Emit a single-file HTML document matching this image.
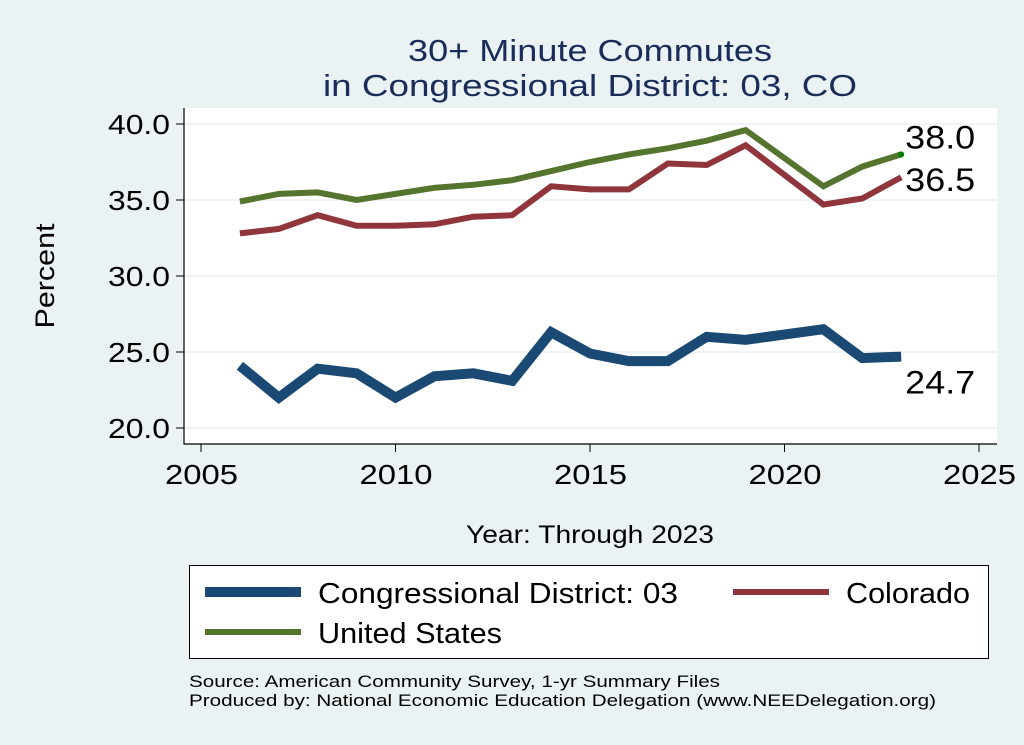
<!DOCTYPE html>
<html><head><meta charset="utf-8"><style>
html,body{margin:0;padding:0;background:#eaf2f3;}
svg{display:block;font-family:"Liberation Sans",Arial,sans-serif;}
</style></head><body>
<svg id="chart" width="1024" height="745" viewBox="0 0 1024 745">
<rect x="0" y="0" width="1024" height="745" fill="#eaf2f3"/>
<text x="408" y="61" font-size="31" textLength="364" lengthAdjust="spacingAndGlyphs" fill="#1a2d5a">30+ Minute Commutes</text>
<text x="323" y="96" font-size="31" textLength="534" lengthAdjust="spacingAndGlyphs" fill="#1a2d5a">in Congressional District:  03, CO</text>
<rect x="184" y="108" width="813" height="336" fill="#ffffff"/>
<g id="grid"></g>
<g id="axes"></g>
<g id="series"></g>
<g id="labels"></g>
<text x="54" y="276" text-anchor="middle" font-size="27" textLength="105" lengthAdjust="spacingAndGlyphs" fill="#000" transform="rotate(-90 54 276)">Percent</text>
<text x="466" y="543" font-size="25" textLength="248" lengthAdjust="spacingAndGlyphs" fill="#000">Year: Through 2023</text>
<g>
<rect x="189.5" y="565.5" width="799" height="93" fill="#fff" stroke="#000" stroke-width="1"/>
<line x1="205" y1="592" x2="301" y2="592" stroke="#1a4a73" stroke-width="10"/>
<text x="318" y="603" font-size="29" textLength="360" lengthAdjust="spacingAndGlyphs" fill="#000">Congressional District:  03</text>
<line x1="733" y1="592" x2="829" y2="592" stroke="#90353b" stroke-width="6"/>
<text x="846" y="603" font-size="29" textLength="124" lengthAdjust="spacingAndGlyphs" fill="#000">Colorado</text>
<line x1="205" y1="632" x2="301" y2="632" stroke="#55752f" stroke-width="6"/>
<text x="318" y="643" font-size="29" textLength="184" lengthAdjust="spacingAndGlyphs" fill="#000">United States</text>
</g>
<text x="189" y="687" font-size="17" textLength="531" lengthAdjust="spacingAndGlyphs" fill="#000">Source: American Community Survey, 1-yr Summary Files</text>
<text x="189" y="706" font-size="17" textLength="747" lengthAdjust="spacingAndGlyphs" fill="#000">Produced by: National Economic Education Delegation (www.NEEDelegation.org)</text>
</svg>
<script>
const years = [2006,2007,2008,2009,2010,2011,2012,2013,2014,2015,2016,2017,2018,2019,2021,2022,2023];
const districtValues = [24.1,22.0,23.9,23.6,22.0,23.4,23.6,23.1,26.3,24.9,24.4,24.4,26.0,25.8,26.5,24.6,24.7];
const coloradoValues = [32.8,33.1,34.0,33.3,33.3,33.4,33.9,34.0,35.9,35.7,35.7,37.4,37.3,38.6,34.7,35.1,36.5];
const usValues = [34.9,35.4,35.5,35.0,35.4,35.8,36.0,36.3,36.9,37.5,38.0,38.4,38.9,39.6,35.9,37.2,38.0];
const yTicks = [20,25,30,35,40];
const yTickLabels = ["20.0","25.0","30.0","35.0","40.0"];
const xTicks = [2005,2010,2015,2020,2025];
const endLabels = ["24.7","36.5","38.0"];

const NS = "http://www.w3.org/2000/svg";
const X = v => 201 + (v - 2005) * (979 - 201) / 20;
const Y = v => 428 - (v - 20) * (428 - 124) / 20;
function mk(tag, attrs, parent){const e=document.createElementNS(NS,tag);for(const k in attrs)e.setAttribute(k,attrs[k]);parent.appendChild(e);return e;}
const grid=document.getElementById('grid'),axes=document.getElementById('axes'),series=document.getElementById('series'),labels=document.getElementById('labels');

yTicks.forEach((t,i)=>{
  const g=mk('line',{x1:184,x2:997,y1:Y(t),y2:Y(t),stroke:'#eaf2f3','stroke-width':1.5},grid);
  
  
  const tk=mk('line',{x1:176,x2:184,y1:Y(t),y2:Y(t),stroke:'#000','stroke-width':1},axes);
  
  
  const tx=mk('text',{x:170,y:Y(t)+10,'text-anchor':'end','font-size':28,textLength:62,lengthAdjust:'spacingAndGlyphs',fill:'#000'},axes);
  tx.textContent=yTickLabels[i];
  
  
});
xTicks.forEach(t=>{
  const tk=mk('line',{x1:X(t),x2:X(t),y1:444,y2:452,stroke:'#000','stroke-width':1},axes);
  
  
  const tx=mk('text',{x:X(t)-36,y:484,'font-size':28,textLength:73,lengthAdjust:'spacingAndGlyphs',fill:'#000'},axes);
  tx.textContent=t;
  
  
});
const ya=mk('line',{x1:184,x2:184,y1:108,y2:444.5,stroke:'#000','stroke-width':1.2},axes);


const xa=mk('line',{x1:184,x2:997,y1:444,y2:444,stroke:'#000','stroke-width':1.2},axes);



function drawLine(vals,color,w,name){
  const pts=years.map((y,i)=>X(y).toFixed(1)+','+Y(vals[i]).toFixed(1)).join(' ');
  const p=mk('polyline',{points:pts,fill:'none',stroke:color,'stroke-width':w,'stroke-linejoin':'miter','stroke-linecap':'butt'},series);
  
  
}
drawLine(usValues,'#55752f',6,'line-united-states');
drawLine(coloradoValues,'#90353b',6,'line-colorado');
drawLine(districtValues,'#1a4a73',10,'line-district-03');
const last=years.length-1;
const dot=mk('circle',{cx:X(years[last]),cy:Y(usValues[last]),r:3,fill:'#008000'},series);



const lx=X(years[last])+4;
[[districtValues[last],endLabels[0],37,'end-label-district'],[coloradoValues[last],endLabels[1],14,'end-label-colorado'],[usValues[last],endLabels[2],-6,'end-label-us']].forEach(a=>{
  const t=mk('text',{x:lx,y:Y(a[0])+a[2],'font-size':32,textLength:70,lengthAdjust:'spacingAndGlyphs',fill:'#000'},labels);
  t.textContent=a[1];
  
  
});
</script>
</body></html>
